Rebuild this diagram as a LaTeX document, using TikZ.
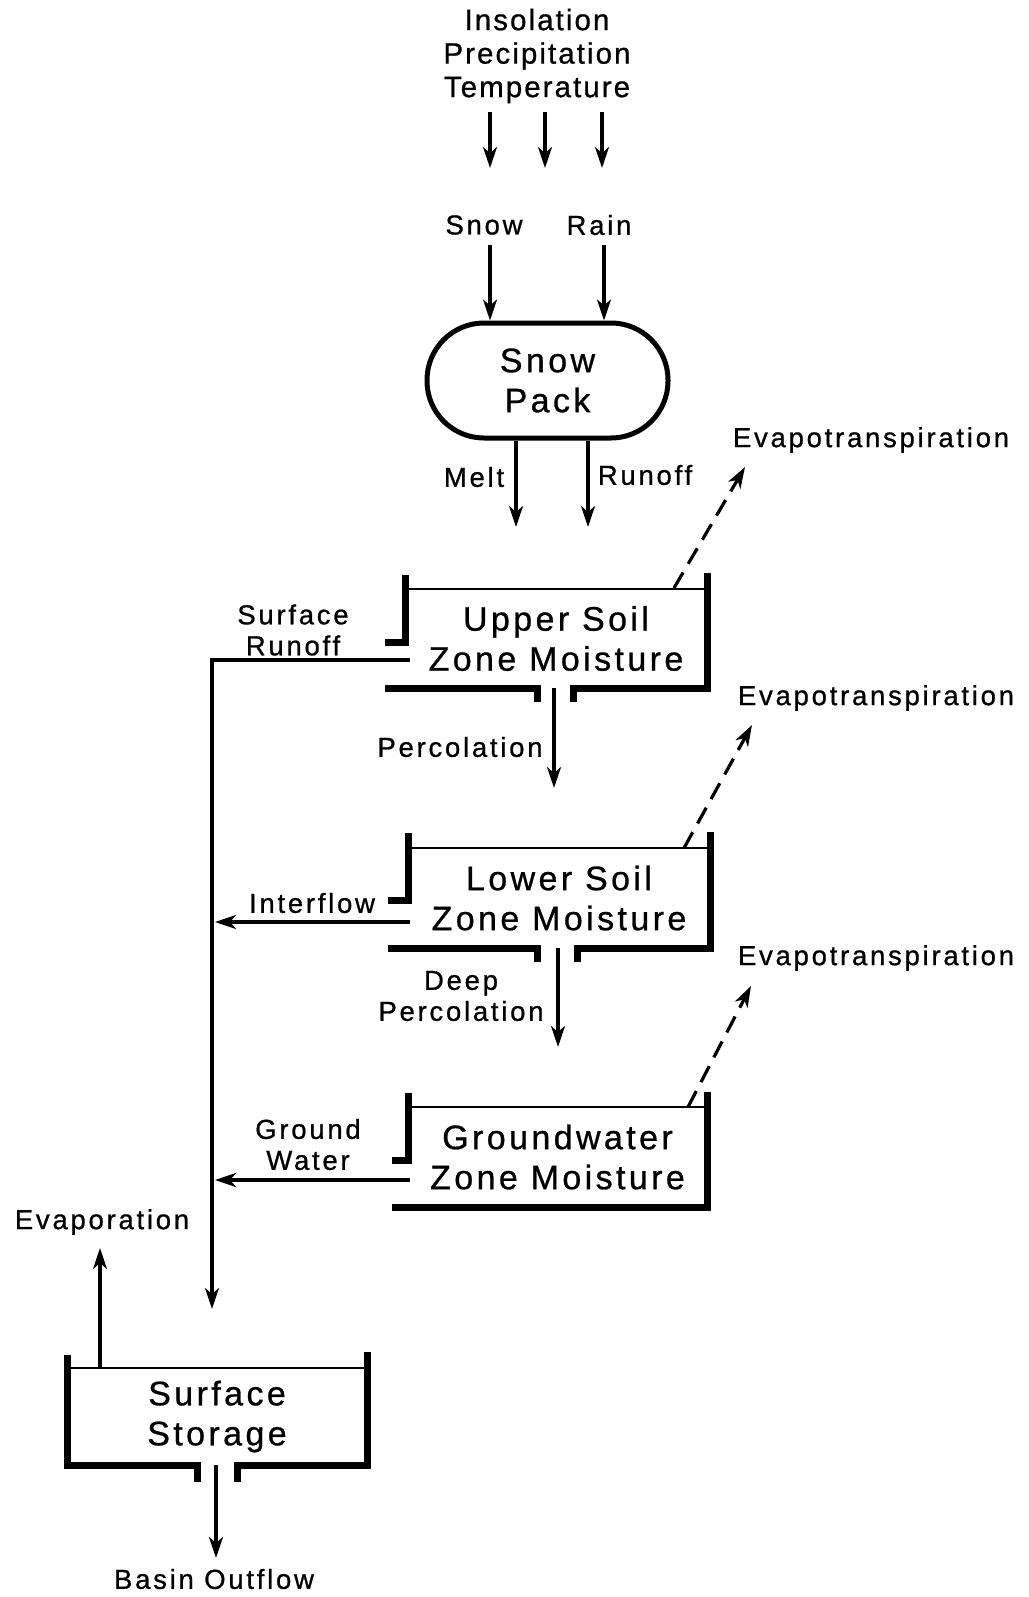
\documentclass[tikz,border=0pt]{standalone}
\usepackage{fontspec}
\setmainfont{Liberation Sans}
\newfontfamily\labfont[LetterSpace=10,FakeBold=0.8]{Liberation Sans}
\newfontfamily\topfont[LetterSpace=7,FakeBold=0.8]{Liberation Sans}
\usetikzlibrary{arrows.meta}
\tikzset{
  lab/.style={font=\labfont\fontsize{27.5}{31}\selectfont, align=center, inner sep=0pt},
  toplab/.style={font=\topfont\fontsize{29.5}{33.5}\selectfont, align=center, inner sep=0pt},
  big/.style={font=\labfont\fontsize{34}{40}\selectfont, align=center, inner sep=0pt},
  tank/.style={big},
  thin/.style={line width=2.5pt},
  snowpack/.style={big, draw, line width=5pt, rounded corners=57pt, minimum width=241pt, minimum height=115pt},
  wall/.style={line width=7pt},
  arr/.style={line width=3.2pt, -{Stealth[length=21pt,width=14pt,inset=6pt]}},
  dasharr/.style={line width=3.2pt, dash pattern=on 18pt off 10pt, -{Stealth[length=21pt,width=14pt,inset=6pt]}}
}
\begin{document}
\begin{tikzpicture}[x=1pt,y=-1pt]
\path[use as bounding box, fill=white] (0,0) rectangle (1028,1597);

% inputs
\node[toplab] (inputs) at (537,56) {Insolation\\Precipitation\\Temperature};
\coordinate (in1) at (490,168);
\coordinate (in2) at (545,168);
\coordinate (in3) at (602,168);
\coordinate (intop) at (545,112);
\draw[arr] (in1 |- intop) -- (in1);
\draw[arr] (in2 |- intop) -- (in2);
\draw[arr] (in3 |- intop) -- (in3);

\node[lab] (snow) at (484,225) {Snow};
\node[lab] (rain) at (599,225) {Rain};

% snow pack
\node[snowpack] (pack) at (547.5,380.5) {Snow\\Pack};
\coordinate (sx) at (490,245);
\coordinate (rx) at (604,245);
\draw[arr] (sx) -- (sx |- pack.north);
\draw[arr] (rx) -- (rx |- pack.north);

\node[lab] (melt) at (474,477) {Melt};
\node[lab] (runoff) at (645,475) {Runoff};
\coordinate (meltend) at (516,527);
\coordinate (runend) at (588,527);
\draw[arr] (meltend |- pack.south) -- (meltend);
\draw[arr] (runend |- pack.south) -- (runend);

% upper soil tank
\node[tank, minimum width=302pt, minimum height=99pt] (upper) at (556,638.5) {Upper Soil\\Zone Moisture};
\draw[thin] (upper.north west) -- (upper.north east);
\draw[wall] (405,575) -- (405,642) -- (385,642);
\draw[wall] (385,688) -- (537,688) -- (537,702);
\draw[wall] (573,702) -- (573,688) -- (707,688) -- (707,573);

\node[lab] (et1) at (871,440) {Evapotranspiration};
\coordinate (et1s) at (674,588);
\coordinate (et1e) at (745,467);
\draw[dasharr] (et1s) -- (et1e);

\node[lab] (srlab) at (293,630) {Surface\\Runoff};
\coordinate (sr) at (410,660);
\coordinate (mainbot) at (212,1309);
\draw[arr] (sr) -- (sr -| mainbot) -- (mainbot);

\node[lab] (perc) at (460,747) {Percolation};
\coordinate (percend) at (554,788);
\draw[arr] (percend |- upper.south) -- (percend);

% lower soil tank
\node[tank, minimum width=302pt, minimum height=100pt] (lower) at (559,898) {Lower Soil\\Zone Moisture};
\draw[thin] (lower.north west) -- (lower.north east);
\draw[wall] (408,833) -- (408,900) -- (388,900);
\draw[wall] (388,948) -- (537,948) -- (537,962);
\draw[wall] (577,962) -- (577,948) -- (710,948) -- (710,832);

\node[lab] (et2) at (876,698) {Evapotranspiration};
\coordinate (et2s) at (684,848);
\coordinate (et2e) at (752,725);
\draw[dasharr] (et2s) -- (et2e);

\node[lab] (iflab) at (312,903) {Interflow};
\coordinate (if) at (410,922);
\draw[arr] (if) -- ([xshift=3pt]if -| mainbot);

\node[lab] (dperc) at (461,996) {Deep\\Percolation};
\coordinate (dpend) at (558,1047);
\draw[arr] (dpend |- lower.south) -- (dpend);

% groundwater tank
\node[tank, minimum width=299pt, minimum height=100pt] (ground) at (557.5,1157) {Groundwater\\Zone Moisture};
\draw[thin] (ground.north west) -- (ground.north east);
\draw[wall] (408,1093) -- (408,1160) -- (392,1160);
\draw[wall] (392,1207) -- (707,1207) -- (707,1092);

\node[lab] (et3) at (876,958) {Evapotranspiration};
\coordinate (et3s) at (688,1107);
\coordinate (et3e) at (751,986);
\draw[dasharr] (et3s) -- (et3e);

\node[lab] (gwlab) at (308,1144.5) {Ground\\Water};
\coordinate (gw) at (410,1180);
\draw[arr] (gw) -- ([xshift=3pt]gw -| mainbot);

% surface storage
\node[tank, minimum width=300pt, minimum height=97pt] (storage) at (217,1416.5) {Surface\\Storage};
\draw[thin] (storage.north west) -- (storage.north east);
\draw[wall] (67,1355) -- (67,1465) -- (197,1465) -- (197,1482);
\draw[wall] (237,1482) -- (237,1465) -- (367,1465) -- (367,1352);

\node[lab] (evap) at (102,1222) {Evaporation};
\coordinate (evend) at (100,1248);
\draw[arr] (evend |- storage.north) -- (evend);

\node[lab] (outlab) at (214,1579) {Basin Outflow};
\coordinate (outend) at (216,1558);
\draw[arr] (outend |- storage.south) -- (outend);
\end{tikzpicture}
\end{document}
